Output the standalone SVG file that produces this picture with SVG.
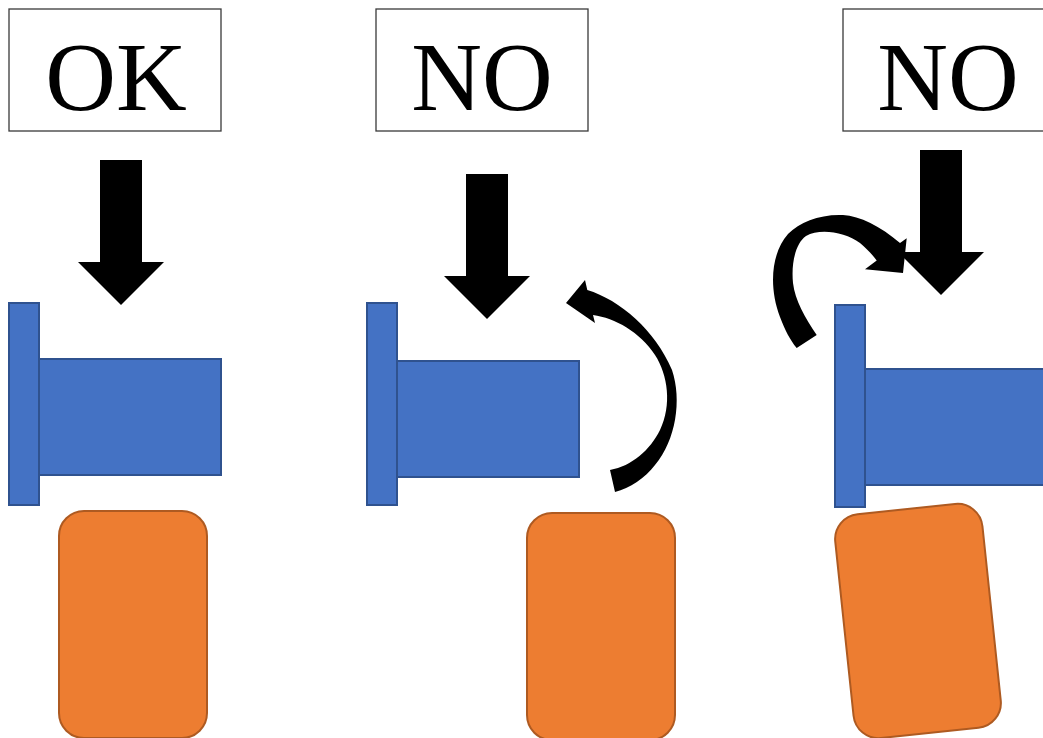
<svg xmlns="http://www.w3.org/2000/svg" xmlns:xlink="http://www.w3.org/1999/xlink" width="1043" height="738" viewBox="0 0 1043 738">
  <style>
    .box { fill: #ffffff; stroke: #3a3a3a; stroke-width: 1.3; }
    .label { font-family: "Liberation Serif", "Times New Roman", serif; font-size: 98px; fill: #000000; text-anchor: middle; }
    .blue { fill: #4472C4; stroke: #2F528F; stroke-width: 2; }
    .orange { fill: #ED7D31; stroke: #AE5A21; stroke-width: 2; }
    .arrow { fill: #000000; stroke: none; }
  </style>
  <defs>
    <path id="down" d="M-21,0 H21 V102 H43 L0,145 L-43,102 H-21 Z"/>
  </defs>
  <rect width="1043" height="738" fill="#ffffff"/>

  <g id="label-ok">
    <rect class="box" x="9" y="9" width="212" height="122"/>
    <text class="label" x="116" y="110">OK</text>
  </g>
  <g id="label-no-1">
    <rect class="box" x="376" y="9" width="212" height="122"/>
    <text class="label" x="482" y="110">NO</text>
  </g>
  <g id="label-no-2">
    <rect class="box" x="843" y="9" width="212" height="122"/>
    <text class="label" x="948" y="110">NO</text>
  </g>

  <g id="part-1">
    <rect class="blue" x="39" y="359" width="182" height="116"/>
    <rect class="blue" x="9" y="303" width="30" height="202"/>
  </g>
  <g id="block-1">
    <rect class="orange" x="59" y="511" width="148" height="227" rx="25" ry="25"/>
  </g>

  <g id="part-2">
    <rect class="blue" x="397" y="361" width="182" height="116"/>
    <rect class="blue" x="367" y="303" width="30" height="202"/>
  </g>
  <g id="block-2">
    <rect class="orange" x="527" y="513" width="148" height="227" rx="25" ry="25"/>
  </g>

  <g id="part-3">
    <rect class="blue" x="865" y="369" width="182" height="116"/>
    <rect class="blue" x="835" y="305" width="30" height="202"/>
  </g>
  <g id="block-3">
    <rect class="orange" x="-74" y="-112.5" width="148" height="225" rx="25" ry="25" transform="translate(918 621) rotate(-6)"/>
  </g>

  <g id="connectors">
    <use xlink:href="#down" href="#down" class="arrow" transform="translate(121 160)"/>
    <use xlink:href="#down" href="#down" class="arrow" transform="translate(487 174)"/>
    <use xlink:href="#down" href="#down" class="arrow" transform="translate(941 150)"/>
    <path class="arrow" d="M566,303 L585,280 L587.3,290 C620,300 655,330 672,370 C682,400 676,440 655,465 C645,478 630,488 615,492 L610,470 C632,466 650,450 660,430 C672,405 668,375 655,355 C640,332 615,318 593,315 L595,323 Z"/>
    <path class="arrow" d="M903,273 L865,269.3 L876.7,260.6 C872,254 866,248 860,243 C845,232 820,228 806,236 C796,243 791,262 793,283 C795,300 805,318 816.7,335 L796.7,348 C790,340 785,330 780,317 C768,285 772,252 788,234 C800,222 820,214 843,215 C860,216 880,226 900,243 L906.7,238.3 Z"/>
  </g>
</svg>
